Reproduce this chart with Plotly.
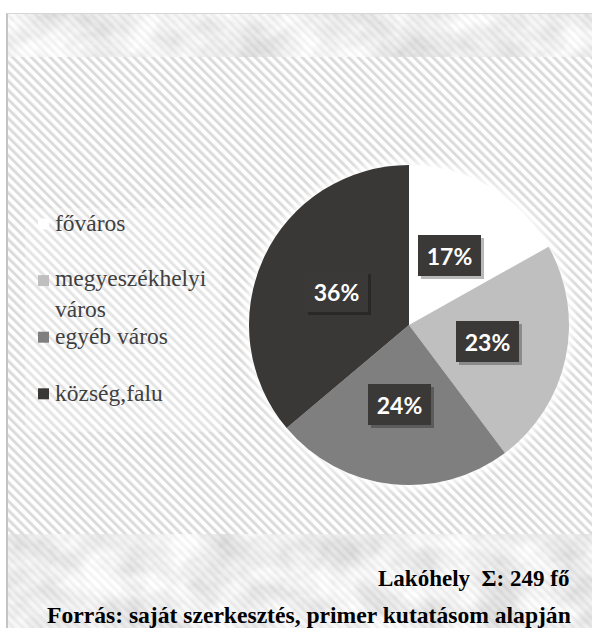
import base64, math
import plotly.graph_objects as go

# ---------------- data ----------------
categories = ["főváros", "megyeszékhelyi város", "egyéb város", "község,falu"]
legend_text = ["főváros", "megyeszékhelyi<br>város", "egyéb város", "község,falu"]
counts = [42, 57, 60, 90]
colors = ["#ffffff", "#bfbfbf", "#7f7f7f", "#3a3836"]
title_line = "Lakóhely\u00a0\u00a0Σ: {} fő"
source_line = "Forrás: saját szerkesztés, primer kutatásom alapján"

W, H = 592, 628
total = sum(counts)
pcts = [round(100 * c / total) for c in counts]

# pie geometry (px)
CX, CY, R = 409, 325, 160

def px(x):
    return x / W

def py(y):
    return 1 - y / H

# ---------------- background (SVG texture) ----------------
svg = f"""<svg xmlns='http://www.w3.org/2000/svg' width='{W}' height='{H}' viewBox='0 0 {W} {H}'>
<defs>
<pattern id='h' width='6.6' height='6.6' patternUnits='userSpaceOnUse' patternTransform='rotate(-45)'>
<rect width='6.6' height='6.6' fill='#ffffff'/>
<rect width='3.0' height='6.6' fill='#dcdcdc'/>
</pattern>
<filter id='m' x='0' y='0' width='100%' height='100%'>
<feTurbulence type='fractalNoise' baseFrequency='0.025 0.03' numOctaves='5' seed='11'/>
<feColorMatrix type='matrix' values='0.6 0 0 0 0.54  0.6 0 0 0 0.54  0.6 0 0 0 0.55  0 0 0 0 1'/>
</filter>
<filter id='b'><feGaussianBlur stdDeviation='5'/></filter>
</defs>
<rect x='0' y='0' width='{W}' height='{H}' fill='#ffffff'/>
<rect x='7' y='57' width='{W-7}' height='477' fill='url(#h)'/>
<rect x='25' y='208' width='197' height='224' fill='#ffffff' opacity='0.25'/>
<rect x='7' y='13' width='{W-7}' height='44' fill='#dcdcdc' filter='url(#m)'/>
<rect x='7' y='534' width='{W-7}' height='{H-534}' fill='#dcdcdc' filter='url(#m)'/>
<rect x='7' y='13' width='{W-7}' height='44' fill='url(#h)' opacity='0.3'/>
<rect x='7' y='534' width='{W-7}' height='{H-534}' fill='url(#h)' opacity='0.3'/>
<circle cx='{CX}' cy='{CY}' r='{R+4}' fill='#ffffff' opacity='0.9' filter='url(#b)'/>
<line x1='7' y1='13' x2='7' y2='{H}' stroke='#c4c4c4' stroke-width='2'/>
<line x1='7' y1='13.5' x2='{W}' y2='13.5' stroke='#d6d6d6' stroke-width='1'/>
</svg>"""
bg_src = "data:image/svg+xml;base64," + base64.b64encode(svg.encode("utf-8")).decode("ascii")

# ---------------- figure ----------------
fig = go.Figure()
fig.add_trace(go.Pie(
    labels=categories,
    values=counts,
    marker=dict(colors=colors, line=dict(width=0)),
    sort=False,
    direction="clockwise",
    rotation=0,
    textinfo="none",
    hoverinfo="label+percent",
    showlegend=False,
    domain=dict(x=[px(CX - R), px(CX + R)], y=[py(CY + R), py(CY - R)]),
))

annotations = []
# percentage labels at half radius along each slice's mid angle
cum = 0
for c, p in zip(counts, pcts):
    mid = 2 * math.pi * (cum + c / 2) / total
    cum += c
    lx = CX + 0.5 * R * math.sin(mid)
    ly = CY - 0.5 * R * math.cos(mid)
    for shadow in (True, False):
        annotations.append(dict(
            x=px(lx), y=py(ly), xref="paper", yref="paper",
            text=f"<b>{p}%</b>", showarrow=False,
            font=dict(family="Lato", size=23, color="rgba(0,0,0,0)" if shadow else "#ffffff"),
            bgcolor="rgba(0,0,0,0.28)" if shadow else "#3b3937",
            width=59, height=37, borderpad=2, borderwidth=0,
            xshift=3 if shadow else 0, yshift=-3 if shadow else 0,
            xanchor="center", yanchor="middle",
        ))

# legend (manual, evenly spaced slots)
shapes = []
LEG_Y0, LEG_DY, LINE_H = 224, 56.6, 28
serif = "Liberation Serif, Times New Roman, serif"
for i, (t, col) in enumerate(zip(legend_text, colors)):
    yc = LEG_Y0 + i * LEG_DY
    shapes.append(dict(type="rect", xref="paper", yref="paper",
                       x0=px(38), x1=px(49), y0=py(yc + 5.5), y1=py(yc - 5.5),
                       fillcolor=col, line=dict(width=0), layer="above"))
    nlines = t.count("<br>") + 1
    annotations.append(dict(
        x=px(53), y=py(yc + (nlines - 1) * LINE_H / 2 - 1), xref="paper", yref="paper",
        text=t, showarrow=False, align="left",
        font=dict(family=serif, size=23.5, color="#404040"),
        xanchor="left", yanchor="middle",
    ))

annotations.append(dict(
    x=px(571), y=py(578), xref="paper", yref="paper",
    text="<b>" + title_line.format(total) + "</b>", showarrow=False,
    font=dict(family=serif, size=23, color="#000000"),
    xanchor="right", yanchor="middle",
))
annotations.append(dict(
    x=px(573), y=py(615), xref="paper", yref="paper",
    text="<b>" + source_line + "</b>", showarrow=False,
    font=dict(family=serif, size=23.6, color="#000000"),
    xanchor="right", yanchor="middle",
))

fig.update_layout(
    width=W, height=H,
    margin=dict(l=0, r=0, t=0, b=0),
    paper_bgcolor="#ffffff",
    plot_bgcolor="#ffffff",
    showlegend=False,
    images=[dict(source=bg_src, xref="paper", yref="paper", x=0, y=1,
                 sizex=1, sizey=1, xanchor="left", yanchor="top",
                 sizing="stretch", layer="below")],
    annotations=annotations,
    shapes=shapes,
)

fig.write_html("out.html")
